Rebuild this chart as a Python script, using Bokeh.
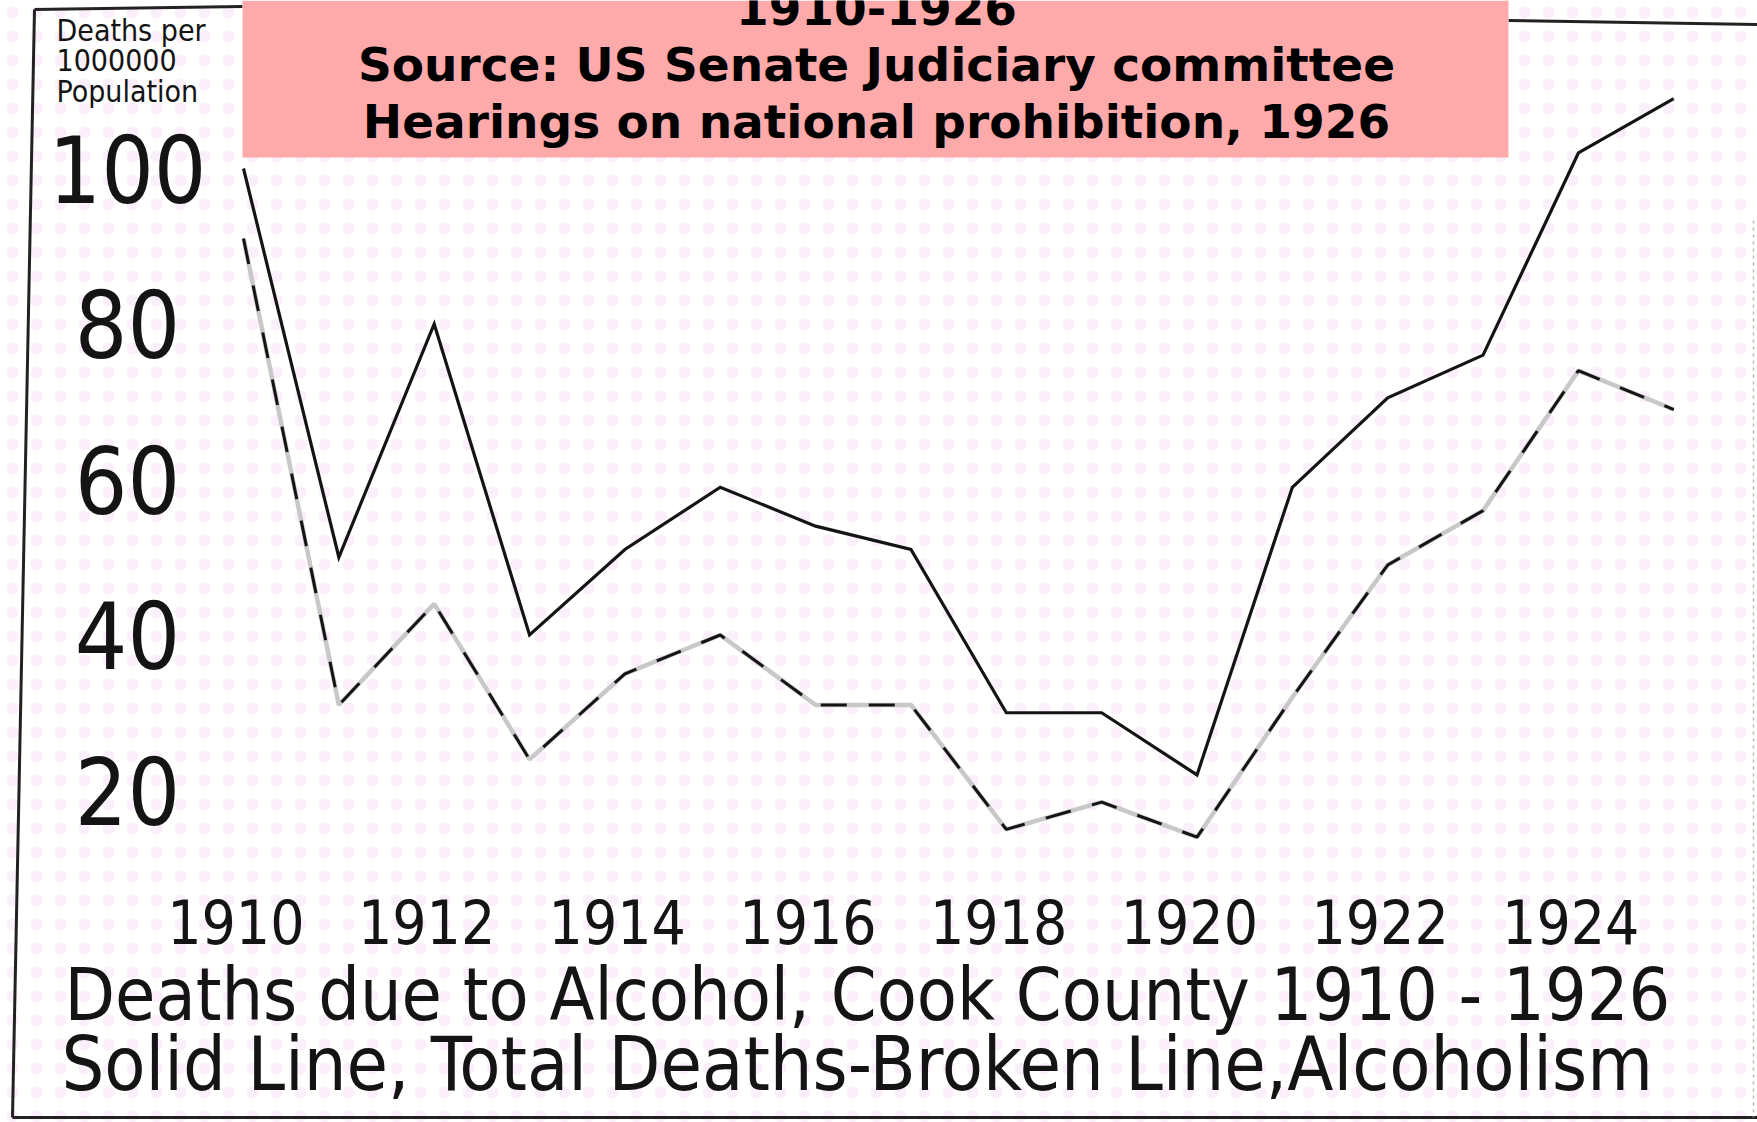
from bokeh.plotting import figure
from bokeh.models import Range1d
from bokeh.core.properties import value
from bokeh.embed import file_html
from bokeh.resources import INLINE

# ---------------- data ----------------
years = list(range(1910, 1926))
total_deaths = [100, 50, 80, 40, 51, 59, 54, 51, 30, 30, 22, 59, 70.5, 76, 102, 109]
alcoholism = [91, 31, 44, 24, 35, 40, 31, 31, 15, 18.5, 14, 32, 49, 56, 74, 69]

y_ticks = [20, 40, 60, 80, 100]
y_tick_labels = ["20", "40", "60", "80", "100"]
x_ticks = [1910, 1912, 1914, 1916, 1918, 1920, 1922, 1924]
x_tick_labels = ["1910", "1912", "1914", "1916", "1918", "1920", "1922", "1924"]

title_lines = ["1910-1926",
               "Source: US Senate Judiciary committee",
               "Hearings on national prohibition, 1926"]
unit_lines = ["Deaths per", "1000000", "Population"]
caption_lines = ["Deaths due to Alcohol, Cook County  1910 - 1926",
                 "Solid Line, Total Deaths-Broken Line,Alcoholism"]

# ---------------- layout ----------------
W, H = 1757, 1122
X0_PAGE, PX_PER_YEAR = 243.0, 95.35
Y0_PAGE, PX_PER_UNIT = 945.5, 7.775


def dx(px):
    return 1910 + (px - X0_PAGE) / PX_PER_YEAR


def dy(py):
    return (Y0_PAGE - py) / PX_PER_UNIT


HAND = value("DejaVu Sans Condensed, sans-serif")
BOLD = value("DejaVu Sans")
INK = "#141414"

p = figure(width=W, height=H, output_backend="svg", toolbar_location=None,
           x_range=Range1d(dx(0), dx(W)),
           y_range=Range1d(dy(H), dy(0)),
           min_border=0, tools="")
p.axis.visible = False
p.grid.visible = False
p.outline_line_color = None
p.background_fill_color = "white"
p.border_fill_color = "white"

# faint pink dotted paper
p.quad(left=[dx(0)], right=[dx(W)], bottom=[dy(H)], top=[dy(0)],
       fill_color=None, line_color=None, hatch_pattern="dot", hatch_color="#f0b0f0",
       hatch_alpha=0.2, hatch_scale=24, hatch_weight=1)

# hand-drawn frame
p.segment(x0=[dx(34), dx(34), dx(1508), dx(12)],
          y0=[dy(9), dy(9), dy(20), dy(1117)],
          x1=[dx(12), dx(242), dx(1757), dx(1757)],
          y1=[dy(1117), dy(6), dy(24), dy(1117)],
          line_color="#222222", line_width=3)
p.segment(x0=[dx(1753)], y0=[dy(220)], x1=[dx(1753)], y1=[dy(1117)],
          line_color="#bdbdbd", line_width=1.5, line_dash="3 4")

# data lines
p.line(years, total_deaths, line_color=INK, line_width=3.2, line_join="miter")
p.line(years, alcoholism, line_color="#c8c8c8", line_width=4.5)
p.line(years, alcoholism, line_color=INK, line_width=3, line_dash="26 22")

# y tick labels
p.text(x=[dx(127)] * len(y_ticks), y=y_ticks, text=y_tick_labels,
       text_font=HAND, text_font_size="92px", text_align="center",
       text_baseline="middle", text_color=INK)

# x tick labels
p.text(x=[t - 0.08 for t in x_ticks], y=[dy(921)] * len(x_ticks), text=x_tick_labels,
       text_font=HAND, text_font_size="60px", text_align="center",
       text_baseline="middle", text_color=INK)

# unit caption, top-left
p.text(x=[dx(56)] * 3, y=[dy(30), dy(59), dy(91)], text=unit_lines,
       text_font=HAND, text_font_size="30px", text_align="left",
       text_baseline="middle", text_color=INK)

# bottom captions
p.text(x=[dx(64), dx(61)], y=[dy(994), dy(1063)], text=caption_lines,
       text_font=HAND, text_font_size=["73px", "75px"], text_align="left",
       text_baseline="middle", text_color=INK)

# pink title box
p.quad(left=[dx(242)], right=[dx(1508)], bottom=[dy(157)], top=[dy(0)],
       fill_color="#ffaaaa", line_color=None)
p.text(x=[dx(876)] * 3, y=[dy(7), dy(64), dy(121)], text=title_lines,
       text_font=BOLD, text_font_style="bold", text_font_size="47px",
       text_align="center", text_baseline="middle", text_color="black")

open("out.html", "w").write(file_html(p, INLINE))
